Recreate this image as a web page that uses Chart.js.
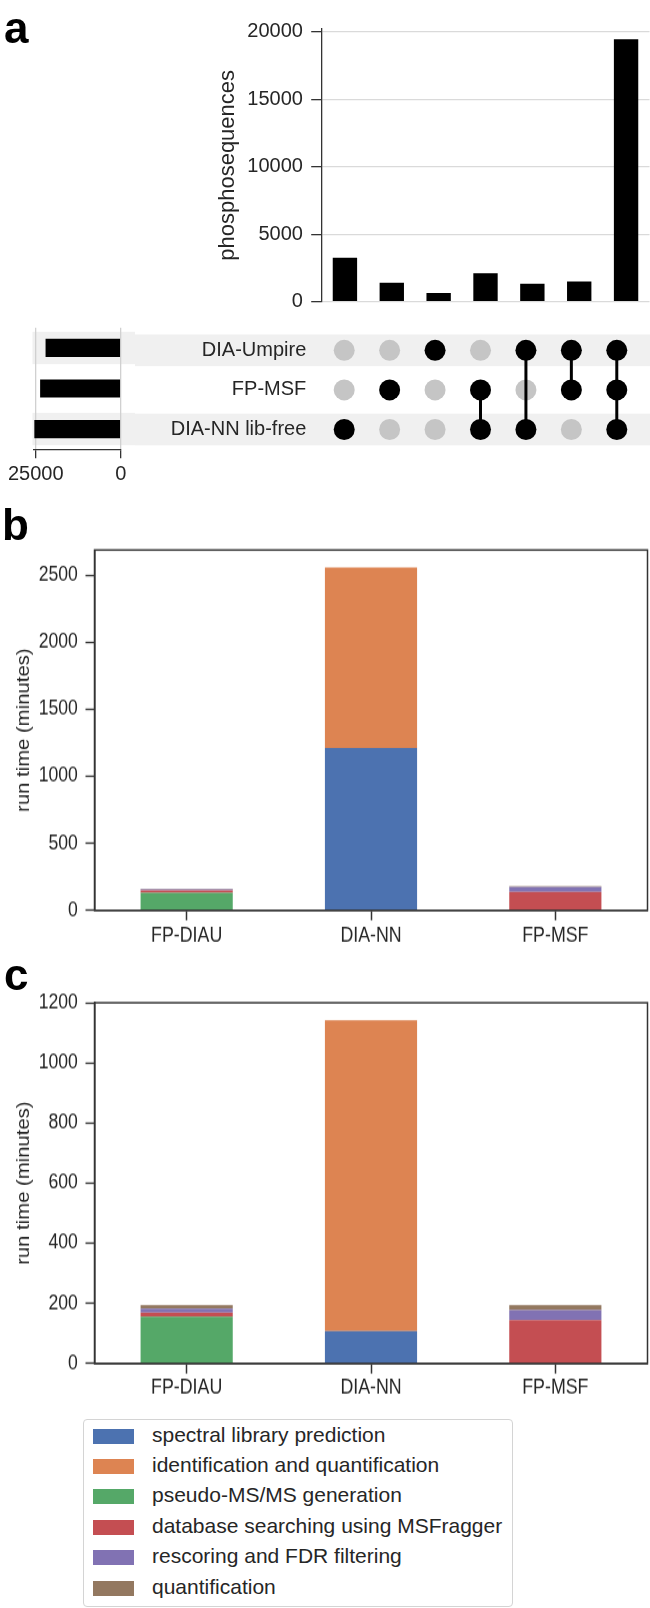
<!DOCTYPE html>
<html>
<head>
<meta charset="utf-8">
<script src="https://cdn.jsdelivr.net/npm/chart.js@4.4.1/dist/chart.umd.min.js"></script>
<style>
  html, body { margin: 0; padding: 0; background: #fff; }
  body { width: 650px; height: 1608px; position: relative; overflow: hidden;
         font-family: "Liberation Sans", Arial, sans-serif; }
  .box { position: absolute; }
  /* panels b and c are a bit taller than wide in the original figure */
  .tall { transform: scaleY(1.15); transform-origin: 0 0; }
  .panel { position: absolute; font-weight: bold; font-size: 44px; line-height: 44px; color: #000; z-index: 5; }
  #legend { position: absolute; left: 83px; top: 1419px; width: 430px; height: 188px;
            border: 1.3px solid #d4d4d4; border-radius: 4px; box-sizing: border-box; }
  .item { position: absolute; left: 9px; height: 30px; font-size: 21px; color: #262626; }
  .sw { position: absolute; left: 0; top: 0; width: 41px; height: 15px; }
  .lab { position: absolute; left: 59px; white-space: nowrap; }
</style>
</head>
<body>
<div class="panel" style="left:4px; top:6px">a</div>
<div class="panel" style="left:2px; top:503px">b</div>
<div class="panel" style="left:4px; top:953px">c</div>

<div class="box" style="left:0; top:0; width:650px; height:320px"><canvas id="countBars"></canvas></div>
<div class="box" style="left:0; top:320px; width:135px; height:175px"><canvas id="setBars"></canvas></div>
<div class="box" style="left:135px; top:320px; width:515px; height:140px"><canvas id="matrix"></canvas></div>
<div class="box tall" style="left:0; top:545px; width:650px; height:347.8px"><canvas id="runB"></canvas></div>
<div class="box tall" style="left:0; top:990px; width:650px; height:356.5px"><canvas id="runC"></canvas></div>
<div id="legend"></div>

<script>
// ---- panel a: upset plot
const setNames = ['DIA-Umpire', 'FP-MSF', 'DIA-NN lib-free'];
const setSizes = [22100, 23700, 25400];
const intersections = ['DIA-NN', 'FP-MSF', 'DIA-Umpire', 'FP-MSF+DIA-NN', 'DIA-Umpire+DIA-NN', 'DIA-Umpire+FP-MSF', 'all'];
const intersectionCounts = [3250, 1400, 650, 2100, 1330, 1500, 19450];
const intersectionMembers = [[2], [1], [0], [1, 2], [0, 2], [0, 1], [0, 1, 2]];
const countTicks = [0, 5000, 10000, 15000, 20000];
const setSizeTicks = [0, 25000];

// ---- panels b and c: run times
const tools = ['FP-DIAU', 'DIA-NN', 'FP-MSF'];
const steps = ['spectral library prediction', 'identification and quantification', 'pseudo-MS/MS generation',
               'database searching using MSFragger', 'rescoring and FDR filtering', 'quantification'];
const stepColors = ['#4c72b0', '#dd8452', '#55a868', '#c44e52', '#8172b3', '#937860'];

const b_spectralLib = [0, 1213, 0];
const b_identQuant  = [0, 1347, 0];
const b_pseudoMSMS  = [132, 0, 0];
const b_dbSearch    = [16, 0, 137];
const b_rescoring   = [9, 0, 38];
const b_quant       = [5, 0, 5];
const bTicks = [0, 500, 1000, 1500, 2000, 2500];

const c_spectralLib = [0, 108, 0];
const c_identQuant  = [0, 1034, 0];
const c_pseudoMSMS  = [156, 0, 0];
const c_dbSearch    = [13, 0, 144];
const c_rescoring   = [14, 0, 34];
const c_quant       = [11, 0, 16];
const cTicks = [0, 200, 400, 600, 800, 1000, 1200];

const INK = '#262626';
const AXIS = '#333';
const SY = 1.15;   // vertical stretch of panels b/c
Chart.defaults.font.family = '"Liberation Sans", Arial, sans-serif';
Chart.defaults.color = INK;
Chart.defaults.animation = false;
Chart.defaults.responsive = true;
Chart.defaults.maintainAspectRatio = false;
Chart.defaults.plugins.legend.display = false;
Chart.defaults.plugins.tooltip.enabled = false;

const plain = v => String(v);
// fixed axis width, and no extra room reserved for the end labels
const fixWidth = w => s => { s.width = w; s.paddingTop = 0; s.paddingBottom = 0; };

// light bands behind every other set row
function bands(fromZero) {
  return {
    id: 'bands',
    beforeDraw(chart) {
      const y = chart.scales.y, ctx = chart.ctx;
      const step = Math.abs(y.getPixelForValue(1) - y.getPixelForValue(0));
      const x0 = fromZero ? 0 : chart.chartArea.left - 1.5;
      ctx.save();
      ctx.fillStyle = '#f0f0f0';
      setNames.forEach((n, i) => {
        if (i % 2) return;
        const c = y.getPixelForValue(i);
        ctx.fillRect(x0, c - step * 0.4, chart.width - x0, step * 0.8);
      });
      ctx.restore();
    }
  };
}

// box around the plot area (matplotlib spines)
const frame = {
  id: 'frame',
  afterDraw(chart) {
    const a = chart.chartArea, ctx = chart.ctx;
    ctx.save();
    ctx.strokeStyle = AXIS;
    ctx.lineWidth = 1.5;
    ctx.strokeRect(a.left, a.top, a.right - a.left, a.bottom - a.top);
    ctx.restore();
  }
};

// intersection sizes
new Chart(document.getElementById('countBars'), {
  type: 'bar',
  data: {
    labels: intersections,
    datasets: [{ data: intersectionCounts, backgroundColor: '#000', barPercentage: 0.52, categoryPercentage: 1 }]
  },
  options: {
    layout: { padding: { top: 29, right: 0.5, bottom: 18.3, left: 0 } },
    scales: {
      x: { display: false },
      y: {
        min: 0, max: 20200,
        afterBuildTicks: s => { s.ticks = countTicks.map(v => ({ value: v })); },
        afterFit: fixWidth(321.5),
        grid: { color: '#dadada', lineWidth: 1.3, tickColor: AXIS, tickLength: 10.3, tickWidth: 1.3 },
        border: { color: AXIS, width: 1.3 },
        ticks: { font: { size: 20 }, padding: 8.3, callback: plain },
        title: { display: true, text: 'phosphosequences', font: { size: 22 }, padding: { top: 214.8, bottom: 0 } }
      }
    }
  }
});

// set sizes
new Chart(document.getElementById('setBars'), {
  type: 'bar',
  data: {
    labels: setNames,
    datasets: [{ data: setSizes, backgroundColor: '#000', barPercentage: 0.45, categoryPercentage: 1 }]
  },
  options: {
    indexAxis: 'y',
    layout: { padding: { left: 34, right: 14.3, top: 7.7, bottom: 0 } },
    scales: {
      y: { display: false },
      x: {
        reverse: true, min: 0, max: 25500,
        afterBuildTicks: s => { s.ticks = setSizeTicks.map(v => ({ value: v })); },
        afterFit: s => { s.height = 45.7; s.paddingLeft = 0; s.paddingRight = 0; },
        grid: { color: '#d0d0d0', lineWidth: 1.3, tickColor: AXIS, tickLength: 9, tickWidth: 1.3 },
        border: { color: AXIS, width: 1.3 },
        ticks: { font: { size: 20 }, padding: 4, maxRotation: 0, autoSkip: false, callback: plain }
      }
    }
  },
  plugins: [bands(false)]
});

// membership matrix
const grayPts = [], blackPts = [], links = [];
intersectionMembers.forEach((m, col) => {
  setNames.forEach((_, row) => (m.includes(row) ? blackPts : grayPts).push({ x: col, y: row }));
  if (m.length > 1) links.push([{ x: col, y: Math.min(...m) }, { x: col, y: Math.max(...m) }]);
});

new Chart(document.getElementById('matrix'), {
  type: 'scatter',
  data: {
    datasets: [
      { data: blackPts, backgroundColor: '#000', pointRadius: 10.5, pointHoverRadius: 10.5, borderWidth: 0, order: 0 },
      ...links.map(l => ({ type: 'line', data: l, borderColor: '#000', borderWidth: 3, pointRadius: 0, order: 1 })),
      { data: grayPts, backgroundColor: '#c5c5c5', pointRadius: 10.5, pointHoverRadius: 10.5, borderWidth: 0, order: 2 }
    ]
  },
  options: {
    layout: { padding: { top: 7.7, bottom: 10.7, right: 0.5, left: 0 } },
    scales: {
      x: { type: 'linear', min: -0.5, max: 6.5, display: false },
      y: {
        type: 'linear', min: -0.5, max: 2.5, reverse: true,
        afterBuildTicks: s => { s.ticks = setNames.map((_, i) => ({ value: i })); },
        afterFit: fixWidth(321.5 - 135),
        grid: { display: false },
        border: { display: false },
        ticks: { font: { size: 20 }, padding: 7.2, callback: v => setNames[v] }
      }
    }
  },
  plugins: [bands(true)]
});

// run time panels (sizes below are before the vertical stretch)
function runtimeChart(id, series, yMax, yTicks, padTop, axisH, labelPad) {
  new Chart(document.getElementById(id), {
    type: 'bar',
    data: {
      labels: tools,
      datasets: steps.map((name, i) => ({
        label: name, data: series[i], backgroundColor: stepColors[i],
        barPercentage: 0.5, categoryPercentage: 1
      }))
    },
    options: {
      layout: { padding: { top: padTop / SY, right: 2.5, bottom: 0, left: 0 } },
      scales: {
        x: {
          stacked: true,
          afterFit: s => { s.height = axisH / SY; },
          grid: { drawOnChartArea: false, offset: false, tickLength: 10 / SY, tickColor: AXIS, tickWidth: 1.5 },
          border: { color: AXIS, width: 1.5 },
          ticks: { font: { size: 17.8 }, padding: labelPad / SY, maxRotation: 0 }
        },
        y: {
          stacked: true, min: 0, max: yMax,
          afterBuildTicks: s => { s.ticks = yTicks.map(v => ({ value: v })); },
          afterFit: fixWidth(94.5),
          grid: { drawOnChartArea: false, tickLength: 9, tickColor: AXIS, tickWidth: 1.4 },
          border: { color: AXIS, width: 1.6 },
          ticks: { font: { size: 17.6 }, padding: 7.7, callback: plain },
          title: { display: true, text: 'run time (minutes)', font: { size: 17.6 }, padding: { top: 13.2, bottom: 0 } }
        }
      }
    },
    plugins: [frame]
  });
}

runtimeChart('runB', [b_spectralLib, b_identQuant, b_pseudoMSMS, b_dbSearch, b_rescoring, b_quant],
             2690, bTicks, 5, 35.7, 3);
runtimeChart('runC', [c_spectralLib, c_identQuant, c_pseudoMSMS, c_dbSearch, c_rescoring, c_quant],
             1200, cTicks, 12.7, 37.5, 2);

// legend box
const legend = document.getElementById('legend');
steps.forEach((name, i) => {
  const item = document.createElement('div');
  item.className = 'item';
  item.style.top = (8.5 + i * 30.4) + 'px';
  item.innerHTML = '<span class="sw" style="background:' + stepColors[i] + '"></span>' +
                   '<span class="lab" style="top:-6px">' + name + '</span>';
  legend.appendChild(item);
});
</script>
</body>
</html>
